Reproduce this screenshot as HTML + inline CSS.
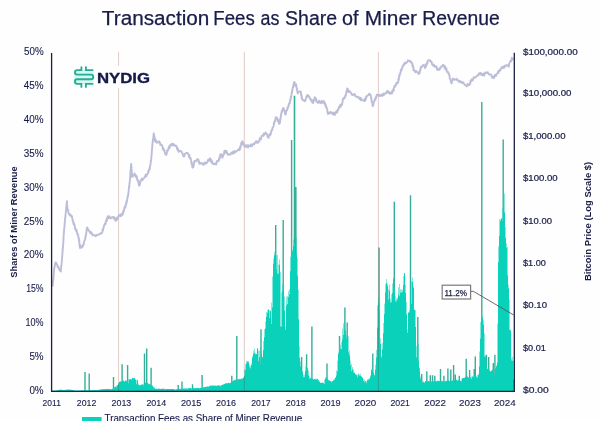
<!DOCTYPE html>
<html><head><meta charset="utf-8"><style>
html,body{margin:0;padding:0;background:#fff;}
body{width:600px;height:421px;overflow:hidden;}
svg{display:block;filter:blur(0.35px);}
text{font-family:"Liberation Sans", sans-serif;}
</style></head><body>
<svg width="600" height="421" viewBox="0 0 600 421">
<rect width="600" height="421" fill="#fefefe"/>
<g font-size="19.5" fill="#181c48" stroke="#181c48" stroke-width="0.25"><text x="101.88" y="24.7" textLength="107.46" lengthAdjust="spacingAndGlyphs">Transaction</text><text x="213.37" y="24.7" textLength="41.34" lengthAdjust="spacingAndGlyphs">Fees</text><text x="260.57" y="24.7" textLength="18.86" lengthAdjust="spacingAndGlyphs">as</text><text x="285.1" y="24.7" textLength="51.93" lengthAdjust="spacingAndGlyphs">Share</text><text x="342.09" y="24.7" textLength="16.47" lengthAdjust="spacingAndGlyphs">of</text><text x="364.79" y="24.7" textLength="52.19" lengthAdjust="spacingAndGlyphs">Miner</text><text x="422.31" y="24.7" textLength="77.34" lengthAdjust="spacingAndGlyphs">Revenue</text></g>

<path d="M84.30 372.0H85.70V391H84.30ZM88.50 373.5H89.90V391H88.50ZM112.80 377.0H114.20V391H112.80ZM121.40 364.2H122.80V391H121.40ZM126.90 365.0H128.30V391H126.90ZM143.80 353.5H145.20V391H143.80ZM146.00 348.5H147.40V391H146.00ZM150.40 367.8H151.80V391H150.40ZM177.50 385.0H178.90V391H177.50ZM181.30 381.4H182.70V391H181.30ZM191.80 384.2H193.20V391H191.80ZM201.40 375.0H202.80V391H201.40ZM231.10 375.7H232.50V391H231.10ZM236.10 336.0H237.50V391H236.10ZM260.30 329.3H261.70V391H260.30ZM275.00 225.0H276.40V391H275.00ZM282.50 220.0H283.90V391H282.50ZM290.90 140.0H292.30V391H290.90ZM293.70 95.7H295.30V391H293.70ZM295.20 187.0H296.60V391H295.20ZM300.90 357.0H302.30V391H300.90ZM305.90 354.2H307.30V391H305.90ZM338.80 336.0H340.20V391H338.80ZM344.20 307.5H345.60V391H344.20ZM346.50 322.5H347.90V391H346.50ZM311.20 326.5H312.60V391H311.20ZM326.30 363.6H327.70V391H326.30ZM372.10 353.6H373.50V391H372.10ZM378.40 247.4H379.80V391H378.40ZM393.60 201.7H395.00V391H393.60ZM409.80 195.2H411.20V391H409.80ZM417.10 316.9H418.50V391H417.10ZM418.20 367.8H419.60V391H418.20ZM421.00 374.0H422.40V391H421.00ZM426.10 371.2H427.50V391H426.10ZM429.60 375.2H431.00V391H429.60ZM431.80 375.2H433.20V391H431.80ZM434.10 375.8H435.50V391H434.10ZM439.80 369.0H441.20V391H439.80ZM443.20 375.8H444.60V391H443.20ZM447.20 368.4H448.60V391H447.20ZM450.10 369.5H451.50V391H450.10ZM452.90 365.0H454.30V391H452.90ZM454.60 374.6H456.00V391H454.60ZM458.60 375.8H460.00V391H458.60ZM465.50 358.7H466.90V391H465.50ZM468.90 370.0H470.30V391H468.90ZM473.50 369.0H474.90V391H473.50ZM474.60 356.4H476.00V391H474.60ZM485.70 354.7H487.10V391H485.70ZM488.00 357.0H489.40V391H488.00ZM492.60 363.0H494.00V391H492.60ZM494.20 354.7H495.60V391H494.20ZM481.10 102.0H482.50V391H481.10ZM502.50 139.5H503.90V391H502.50Z" fill="#34b09a"/>
<path d="M51.50 391.0 L51.50 390.8 L52.00 390.8 L52.00 390.6 L52.50 390.6 L52.50 390.6 L53.00 390.6 L53.00 390.5 L53.50 390.5 L53.50 390.5 L54.00 390.5 L54.00 390.5 L54.50 390.5 L54.50 390.4 L55.00 390.4 L55.00 390.6 L55.50 390.6 L55.50 390.4 L56.00 390.4 L56.00 390.3 L56.50 390.3 L56.50 390.4 L57.00 390.4 L57.00 390.2 L57.50 390.2 L57.50 390.1 L58.00 390.1 L58.00 390.0 L58.50 390.0 L58.50 390.0 L59.00 390.0 L59.00 389.8 L59.50 389.8 L59.50 389.7 L60.00 389.7 L60.00 389.6 L60.50 389.6 L60.50 389.8 L61.00 389.8 L61.00 389.8 L61.50 389.8 L61.50 389.8 L62.00 389.8 L62.00 389.9 L62.50 389.9 L62.50 389.9 L63.00 389.9 L63.00 390.0 L63.50 390.0 L63.50 390.0 L64.00 390.0 L64.00 390.0 L64.50 390.0 L64.50 390.0 L65.00 390.0 L65.00 389.8 L65.50 389.8 L65.50 389.7 L66.00 389.7 L66.00 389.7 L66.50 389.7 L66.50 389.7 L67.00 389.7 L67.00 389.6 L67.50 389.6 L67.50 389.5 L68.00 389.5 L68.00 389.4 L68.50 389.4 L68.50 389.6 L69.00 389.6 L69.00 389.6 L69.50 389.6 L69.50 389.7 L70.00 389.7 L70.00 389.7 L70.50 389.7 L70.50 389.7 L71.00 389.7 L71.00 389.8 L71.50 389.8 L71.50 389.8 L72.00 389.8 L72.00 390.0 L72.50 390.0 L72.50 390.0 L73.00 390.0 L73.00 390.1 L73.50 390.1 L73.50 390.2 L74.00 390.2 L74.00 390.3 L74.50 390.3 L74.50 390.4 L75.00 390.4 L75.00 390.4 L75.50 390.4 L75.50 390.4 L76.00 390.4 L76.00 390.4 L76.50 390.4 L76.50 390.4 L77.00 390.4 L77.00 390.4 L77.50 390.4 L77.50 390.4 L78.00 390.4 L78.00 390.4 L78.50 390.4 L78.50 390.3 L79.00 390.3 L79.00 390.4 L79.50 390.4 L79.50 390.4 L80.00 390.4 L80.00 390.4 L80.50 390.4 L80.50 390.6 L81.00 390.6 L81.00 390.3 L81.50 390.3 L81.50 390.3 L82.00 390.3 L82.00 390.3 L82.50 390.3 L82.50 390.3 L83.00 390.3 L83.00 390.4 L83.50 390.4 L83.50 390.3 L84.00 390.3 L84.00 390.3 L84.50 390.3 L84.50 390.4 L85.00 390.4 L85.00 390.2 L85.50 390.2 L85.50 390.2 L86.00 390.2 L86.00 390.2 L86.50 390.2 L86.50 390.2 L87.00 390.2 L87.00 390.2 L87.50 390.2 L87.50 390.2 L88.00 390.2 L88.00 390.2 L88.50 390.2 L88.50 390.2 L89.00 390.2 L89.00 390.2 L89.50 390.2 L89.50 390.2 L90.00 390.2 L90.00 390.1 L90.50 390.1 L90.50 390.1 L91.00 390.1 L91.00 390.2 L91.50 390.2 L91.50 390.2 L92.00 390.2 L92.00 390.1 L92.50 390.1 L92.50 390.1 L93.00 390.1 L93.00 390.2 L93.50 390.2 L93.50 390.1 L94.00 390.1 L94.00 390.2 L94.50 390.2 L94.50 390.1 L95.00 390.1 L95.00 390.2 L95.50 390.2 L95.50 390.1 L96.00 390.1 L96.00 390.1 L96.50 390.1 L96.50 390.2 L97.00 390.2 L97.00 390.2 L97.50 390.2 L97.50 390.1 L98.00 390.1 L98.00 390.0 L98.50 390.0 L98.50 389.7 L99.00 389.7 L99.00 390.0 L99.50 390.0 L99.50 389.4 L100.00 389.4 L100.00 389.2 L100.50 389.2 L100.50 389.4 L101.00 389.4 L101.00 389.6 L101.50 389.6 L101.50 389.2 L102.00 389.2 L102.00 389.2 L102.50 389.2 L102.50 389.2 L103.00 389.2 L103.00 389.2 L103.50 389.2 L103.50 389.1 L104.00 389.1 L104.00 389.1 L104.50 389.1 L104.50 389.3 L105.00 389.3 L105.00 389.2 L105.50 389.2 L105.50 389.0 L106.00 389.0 L106.00 389.1 L106.50 389.1 L106.50 389.1 L107.00 389.1 L107.00 389.1 L107.50 389.1 L107.50 389.0 L108.00 389.0 L108.00 389.1 L108.50 389.1 L108.50 389.1 L109.00 389.1 L109.00 389.0 L109.50 389.0 L109.50 389.1 L110.00 389.1 L110.00 389.2 L110.50 389.2 L110.50 389.5 L111.00 389.5 L111.00 388.9 L111.50 388.9 L111.50 389.2 L112.00 389.2 L112.00 388.9 L112.50 388.9 L112.50 388.6 L113.00 388.6 L113.00 388.0 L113.50 388.0 L113.50 387.9 L114.00 387.9 L114.00 387.3 L114.50 387.3 L114.50 387.2 L115.00 387.2 L115.00 387.0 L115.50 387.0 L115.50 386.3 L116.00 386.3 L116.00 387.2 L116.50 387.2 L116.50 385.5 L117.00 385.5 L117.00 385.3 L117.50 385.3 L117.50 384.9 L118.00 384.9 L118.00 384.2 L118.50 384.2 L118.50 382.8 L119.00 382.8 L119.00 381.7 L119.50 381.7 L119.50 381.9 L120.00 381.9 L120.00 381.2 L120.50 381.2 L120.50 381.7 L121.00 381.7 L121.00 381.6 L121.50 381.6 L121.50 381.3 L122.00 381.3 L122.00 381.1 L122.50 381.1 L122.50 380.4 L123.00 380.4 L123.00 380.4 L123.50 380.4 L123.50 380.8 L124.00 380.8 L124.00 381.0 L124.50 381.0 L124.50 382.1 L125.00 382.1 L125.00 380.3 L125.50 380.3 L125.50 380.7 L126.00 380.7 L126.00 381.4 L126.50 381.4 L126.50 380.4 L127.00 380.4 L127.00 379.9 L127.50 379.9 L127.50 379.5 L128.00 379.5 L128.00 383.3 L128.50 383.3 L128.50 379.3 L129.00 379.3 L129.00 379.4 L129.50 379.4 L129.50 379.2 L130.00 379.2 L130.00 379.3 L130.50 379.3 L130.50 379.0 L131.00 379.0 L131.00 380.1 L131.50 380.1 L131.50 378.4 L132.00 378.4 L132.00 378.0 L132.50 378.0 L132.50 377.7 L133.00 377.7 L133.00 378.7 L133.50 378.7 L133.50 378.0 L134.00 378.0 L134.00 377.4 L134.50 377.4 L134.50 378.2 L135.00 378.2 L135.00 378.7 L135.50 378.7 L135.50 380.1 L136.00 380.1 L136.00 379.9 L136.50 379.9 L136.50 384.2 L137.00 384.2 L137.00 379.4 L137.50 379.4 L137.50 380.5 L138.00 380.5 L138.00 383.5 L138.50 383.5 L138.50 385.0 L139.00 385.0 L139.00 385.0 L139.50 385.0 L139.50 385.7 L140.00 385.7 L140.00 384.9 L140.50 384.9 L140.50 384.9 L141.00 384.9 L141.00 384.8 L141.50 384.8 L141.50 384.8 L142.00 384.8 L142.00 384.3 L142.50 384.3 L142.50 384.4 L143.00 384.4 L143.00 385.4 L143.50 385.4 L143.50 383.9 L144.00 383.9 L144.00 384.2 L144.50 384.2 L144.50 383.2 L145.00 383.2 L145.00 382.8 L145.50 382.8 L145.50 382.7 L146.00 382.7 L146.00 382.2 L146.50 382.2 L146.50 382.9 L147.00 382.9 L147.00 382.8 L147.50 382.8 L147.50 383.1 L148.00 383.1 L148.00 383.4 L148.50 383.4 L148.50 384.4 L149.00 384.4 L149.00 383.8 L149.50 383.8 L149.50 384.0 L150.00 384.0 L150.00 384.9 L150.50 384.9 L150.50 384.5 L151.00 384.5 L151.00 385.0 L151.50 385.0 L151.50 385.8 L152.00 385.8 L152.00 385.3 L152.50 385.3 L152.50 385.9 L153.00 385.9 L153.00 386.7 L153.50 386.7 L153.50 387.5 L154.00 387.5 L154.00 387.8 L154.50 387.8 L154.50 388.2 L155.00 388.2 L155.00 388.5 L155.50 388.5 L155.50 388.9 L156.00 388.9 L156.00 388.8 L156.50 388.8 L156.50 388.6 L157.00 388.6 L157.00 388.8 L157.50 388.8 L157.50 389.3 L158.00 389.3 L158.00 388.6 L158.50 388.6 L158.50 388.7 L159.00 388.7 L159.00 388.6 L159.50 388.6 L159.50 388.9 L160.00 388.9 L160.00 389.1 L160.50 389.1 L160.50 389.0 L161.00 389.0 L161.00 388.8 L161.50 388.8 L161.50 388.8 L162.00 388.8 L162.00 388.8 L162.50 388.8 L162.50 388.7 L163.00 388.7 L163.00 388.7 L163.50 388.7 L163.50 388.8 L164.00 388.8 L164.00 388.9 L164.50 388.9 L164.50 388.8 L165.00 388.8 L165.00 389.6 L165.50 389.6 L165.50 388.8 L166.00 388.8 L166.00 389.0 L166.50 389.0 L166.50 389.0 L167.00 389.0 L167.00 388.9 L167.50 388.9 L167.50 388.9 L168.00 388.9 L168.00 388.9 L168.50 388.9 L168.50 388.9 L169.00 388.9 L169.00 389.1 L169.50 389.1 L169.50 389.0 L170.00 389.0 L170.00 389.0 L170.50 389.0 L170.50 389.1 L171.00 389.1 L171.00 389.0 L171.50 389.0 L171.50 388.9 L172.00 388.9 L172.00 388.9 L172.50 388.9 L172.50 389.0 L173.00 389.0 L173.00 389.0 L173.50 389.0 L173.50 389.1 L174.00 389.1 L174.00 389.2 L174.50 389.2 L174.50 389.5 L175.00 389.5 L175.00 389.4 L175.50 389.4 L175.50 389.6 L176.00 389.6 L176.00 389.3 L176.50 389.3 L176.50 389.3 L177.00 389.3 L177.00 389.0 L177.50 389.0 L177.50 388.9 L178.00 388.9 L178.00 388.9 L178.50 388.9 L178.50 389.2 L179.00 389.2 L179.00 388.7 L179.50 388.7 L179.50 388.9 L180.00 388.9 L180.00 388.9 L180.50 388.9 L180.50 388.6 L181.00 388.6 L181.00 388.6 L181.50 388.6 L181.50 388.7 L182.00 388.7 L182.00 388.5 L182.50 388.5 L182.50 388.9 L183.00 388.9 L183.00 388.6 L183.50 388.6 L183.50 388.6 L184.00 388.6 L184.00 388.5 L184.50 388.5 L184.50 388.5 L185.00 388.5 L185.00 388.4 L185.50 388.4 L185.50 388.8 L186.00 388.8 L186.00 388.3 L186.50 388.3 L186.50 388.5 L187.00 388.5 L187.00 389.3 L187.50 389.3 L187.50 388.2 L188.00 388.2 L188.00 388.1 L188.50 388.1 L188.50 388.6 L189.00 388.6 L189.00 388.1 L189.50 388.1 L189.50 388.3 L190.00 388.3 L190.00 388.1 L190.50 388.1 L190.50 388.1 L191.00 388.1 L191.00 388.2 L191.50 388.2 L191.50 388.8 L192.00 388.8 L192.00 388.0 L192.50 388.0 L192.50 388.2 L193.00 388.2 L193.00 388.1 L193.50 388.1 L193.50 388.1 L194.00 388.1 L194.00 388.0 L194.50 388.0 L194.50 388.4 L195.00 388.4 L195.00 387.9 L195.50 387.9 L195.50 388.2 L196.00 388.2 L196.00 388.2 L196.50 388.2 L196.50 388.0 L197.00 388.0 L197.00 388.0 L197.50 388.0 L197.50 388.1 L198.00 388.1 L198.00 388.0 L198.50 388.0 L198.50 387.8 L199.00 387.8 L199.00 388.5 L199.50 388.5 L199.50 387.9 L200.00 387.9 L200.00 387.8 L200.50 387.8 L200.50 387.9 L201.00 387.9 L201.00 387.8 L201.50 387.8 L201.50 387.9 L202.00 387.9 L202.00 387.7 L202.50 387.7 L202.50 387.6 L203.00 387.6 L203.00 387.4 L203.50 387.4 L203.50 387.1 L204.00 387.1 L204.00 387.5 L204.50 387.5 L204.50 387.0 L205.00 387.0 L205.00 387.1 L205.50 387.1 L205.50 386.8 L206.00 386.8 L206.00 386.6 L206.50 386.6 L206.50 386.9 L207.00 386.9 L207.00 387.0 L207.50 387.0 L207.50 386.1 L208.00 386.1 L208.00 386.7 L208.50 386.7 L208.50 386.4 L209.00 386.4 L209.00 386.1 L209.50 386.1 L209.50 386.0 L210.00 386.0 L210.00 385.7 L210.50 385.7 L210.50 385.5 L211.00 385.5 L211.00 385.6 L211.50 385.6 L211.50 385.7 L212.00 385.7 L212.00 385.6 L212.50 385.6 L212.50 385.4 L213.00 385.4 L213.00 385.6 L213.50 385.6 L213.50 385.4 L214.00 385.4 L214.00 385.4 L214.50 385.4 L214.50 386.1 L215.00 386.1 L215.00 385.7 L215.50 385.7 L215.50 385.3 L216.00 385.3 L216.00 385.5 L216.50 385.5 L216.50 386.0 L217.00 386.0 L217.00 385.5 L217.50 385.5 L217.50 385.4 L218.00 385.4 L218.00 385.4 L218.50 385.4 L218.50 385.2 L219.00 385.2 L219.00 385.5 L219.50 385.5 L219.50 385.3 L220.00 385.3 L220.00 385.4 L220.50 385.4 L220.50 386.5 L221.00 386.5 L221.00 384.9 L221.50 384.9 L221.50 385.6 L222.00 385.6 L222.00 384.8 L222.50 384.8 L222.50 384.7 L223.00 384.7 L223.00 384.3 L223.50 384.3 L223.50 384.6 L224.00 384.6 L224.00 384.1 L224.50 384.1 L224.50 383.8 L225.00 383.8 L225.00 383.6 L225.50 383.6 L225.50 383.3 L226.00 383.3 L226.00 383.5 L226.50 383.5 L226.50 383.0 L227.00 383.0 L227.00 383.4 L227.50 383.4 L227.50 383.0 L228.00 383.0 L228.00 383.1 L228.50 383.1 L228.50 382.7 L229.00 382.7 L229.00 383.5 L229.50 383.5 L229.50 382.7 L230.00 382.7 L230.00 382.9 L230.50 382.9 L230.50 382.8 L231.00 382.8 L231.00 382.3 L231.50 382.3 L231.50 381.2 L232.00 381.2 L232.00 381.8 L232.50 381.8 L232.50 380.9 L233.00 380.9 L233.00 381.0 L233.50 381.0 L233.50 380.1 L234.00 380.1 L234.00 380.2 L234.50 380.2 L234.50 379.9 L235.00 379.9 L235.00 379.6 L235.50 379.6 L235.50 380.3 L236.00 380.3 L236.00 382.4 L236.50 382.4 L236.50 381.3 L237.00 381.3 L237.00 380.0 L237.50 380.0 L237.50 379.2 L238.00 379.2 L238.00 379.5 L238.50 379.5 L238.50 378.9 L239.00 378.9 L239.00 379.3 L239.50 379.3 L239.50 378.7 L240.00 378.7 L240.00 379.3 L240.50 379.3 L240.50 379.1 L241.00 379.1 L241.00 378.4 L241.50 378.4 L241.50 378.8 L242.00 378.8 L242.00 379.1 L242.50 379.1 L242.50 378.0 L243.00 378.0 L243.00 377.7 L243.50 377.7 L243.50 377.6 L244.00 377.6 L244.00 375.8 L244.50 375.8 L244.50 369.6 L245.00 369.6 L245.00 370.3 L245.50 370.3 L245.50 364.3 L246.00 364.3 L246.00 363.6 L246.50 363.6 L246.50 360.7 L247.00 360.7 L247.00 361.1 L247.50 361.1 L247.50 362.1 L248.00 362.1 L248.00 362.5 L248.50 362.5 L248.50 361.1 L249.00 361.1 L249.00 364.4 L249.50 364.4 L249.50 367.3 L250.00 367.3 L250.00 365.7 L250.50 365.7 L250.50 368.4 L251.00 368.4 L251.00 365.2 L251.50 365.2 L251.50 363.3 L252.00 363.3 L252.00 357.8 L252.50 357.8 L252.50 356.0 L253.00 356.0 L253.00 354.0 L253.50 354.0 L253.50 350.7 L254.00 350.7 L254.00 348.5 L254.50 348.5 L254.50 353.1 L255.00 353.1 L255.00 352.8 L255.50 352.8 L255.50 354.6 L256.00 354.6 L256.00 354.1 L256.50 354.1 L256.50 353.9 L257.00 353.9 L257.00 347.9 L257.50 347.9 L257.50 348.4 L258.00 348.4 L258.00 350.6 L258.50 350.6 L258.50 361.3 L259.00 361.3 L259.00 356.9 L259.50 356.9 L259.50 350.6 L260.00 350.6 L260.00 364.4 L260.50 364.4 L260.50 347.0 L261.00 347.0 L261.00 351.0 L261.50 351.0 L261.50 354.2 L262.00 354.2 L262.00 356.7 L262.50 356.7 L262.50 357.3 L263.00 357.3 L263.00 350.3 L263.50 350.3 L263.50 340.9 L264.00 340.9 L264.00 337.2 L264.50 337.2 L264.50 329.3 L265.00 329.3 L265.00 328.5 L265.50 328.5 L265.50 321.5 L266.00 321.5 L266.00 316.9 L266.50 316.9 L266.50 311.9 L267.00 311.9 L267.00 313.0 L267.50 313.0 L267.50 310.2 L268.00 310.2 L268.00 309.2 L268.50 309.2 L268.50 309.8 L269.00 309.8 L269.00 310.2 L269.50 310.2 L269.50 318.1 L270.00 318.1 L270.00 311.2 L270.50 311.2 L270.50 310.6 L271.00 310.6 L271.00 324.1 L271.50 324.1 L271.50 302.6 L272.00 302.6 L272.00 307.5 L272.50 307.5 L272.50 276.5 L273.00 276.5 L273.00 263.7 L273.50 263.7 L273.50 258.4 L274.00 258.4 L274.00 255.2 L274.50 255.2 L274.50 251.7 L275.00 251.7 L275.00 264.1 L275.50 264.1 L275.50 249.2 L276.00 249.2 L276.00 269.6 L276.50 269.6 L276.50 255.4 L277.00 255.4 L277.00 254.5 L277.50 254.5 L277.50 273.8 L278.00 273.8 L278.00 264.5 L278.50 264.5 L278.50 273.8 L279.00 273.8 L279.00 264.8 L279.50 264.8 L279.50 259.5 L280.00 259.5 L280.00 271.7 L280.50 271.7 L280.50 326.4 L281.00 326.4 L281.00 326.7 L281.50 326.7 L281.50 292.3 L282.00 292.3 L282.00 284.2 L282.50 284.2 L282.50 290.4 L283.00 290.4 L283.00 288.9 L283.50 288.9 L283.50 302.8 L284.00 302.8 L284.00 296.2 L284.50 296.2 L284.50 310.8 L285.00 310.8 L285.00 326.5 L285.50 326.5 L285.50 329.8 L286.00 329.8 L286.00 305.4 L286.50 305.4 L286.50 297.1 L287.00 297.1 L287.00 295.9 L287.50 295.9 L287.50 303.9 L288.00 303.9 L288.00 297.2 L288.50 297.2 L288.50 290.9 L289.00 290.9 L289.00 294.3 L289.50 294.3 L289.50 289.0 L290.00 289.0 L290.00 271.2 L290.50 271.2 L290.50 256.8 L291.00 256.8 L291.00 244.4 L291.50 244.4 L291.50 236.5 L292.00 236.5 L292.00 249.5 L292.50 249.5 L292.50 251.4 L293.00 251.4 L293.00 239.6 L293.50 239.6 L293.50 245.9 L294.00 245.9 L294.00 243.4 L294.50 243.4 L294.50 243.2 L295.00 243.2 L295.00 253.5 L295.50 253.5 L295.50 257.3 L296.00 257.3 L296.00 237.6 L296.50 237.6 L296.50 254.5 L297.00 254.5 L297.00 257.7 L297.50 257.7 L297.50 275.7 L298.00 275.7 L298.00 289.4 L298.50 289.4 L298.50 319.2 L299.00 319.2 L299.00 346.3 L299.50 346.3 L299.50 358.0 L300.00 358.0 L300.00 361.6 L300.50 361.6 L300.50 366.4 L301.00 366.4 L301.00 371.8 L301.50 371.8 L301.50 371.0 L302.00 371.0 L302.00 371.0 L302.50 371.0 L302.50 372.3 L303.00 372.3 L303.00 374.7 L303.50 374.7 L303.50 377.3 L304.00 377.3 L304.00 377.3 L304.50 377.3 L304.50 374.5 L305.00 374.5 L305.00 371.3 L305.50 371.3 L305.50 366.8 L306.00 366.8 L306.00 367.7 L306.50 367.7 L306.50 366.4 L307.00 366.4 L307.00 367.8 L307.50 367.8 L307.50 369.2 L308.00 369.2 L308.00 370.5 L308.50 370.5 L308.50 375.4 L309.00 375.4 L309.00 376.3 L309.50 376.3 L309.50 379.1 L310.00 379.1 L310.00 378.2 L310.50 378.2 L310.50 377.8 L311.00 377.8 L311.00 378.8 L311.50 378.8 L311.50 378.6 L312.00 378.6 L312.00 378.4 L312.50 378.4 L312.50 379.1 L313.00 379.1 L313.00 379.2 L313.50 379.2 L313.50 379.4 L314.00 379.4 L314.00 378.9 L314.50 378.9 L314.50 379.0 L315.00 379.0 L315.00 379.7 L315.50 379.7 L315.50 378.8 L316.00 378.8 L316.00 378.4 L316.50 378.4 L316.50 379.7 L317.00 379.7 L317.00 379.1 L317.50 379.1 L317.50 378.7 L318.00 378.7 L318.00 380.4 L318.50 380.4 L318.50 379.7 L319.00 379.7 L319.00 381.3 L319.50 381.3 L319.50 381.9 L320.00 381.9 L320.00 382.7 L320.50 382.7 L320.50 382.9 L321.00 382.9 L321.00 382.9 L321.50 382.9 L321.50 382.4 L322.00 382.4 L322.00 382.8 L322.50 382.8 L322.50 382.4 L323.00 382.4 L323.00 383.2 L323.50 383.2 L323.50 382.8 L324.00 382.8 L324.00 383.9 L324.50 383.9 L324.50 379.6 L325.00 379.6 L325.00 378.7 L325.50 378.7 L325.50 377.1 L326.00 377.1 L326.00 378.0 L326.50 378.0 L326.50 377.7 L327.00 377.7 L327.00 377.9 L327.50 377.9 L327.50 379.4 L328.00 379.4 L328.00 379.4 L328.50 379.4 L328.50 380.6 L329.00 380.6 L329.00 380.4 L329.50 380.4 L329.50 380.6 L330.00 380.6 L330.00 380.9 L330.50 380.9 L330.50 381.3 L331.00 381.3 L331.00 380.7 L331.50 380.7 L331.50 382.5 L332.00 382.5 L332.00 381.2 L332.50 381.2 L332.50 381.0 L333.00 381.0 L333.00 380.8 L333.50 380.8 L333.50 379.4 L334.00 379.4 L334.00 380.1 L334.50 380.1 L334.50 378.6 L335.00 378.6 L335.00 377.3 L335.50 377.3 L335.50 377.9 L336.00 377.9 L336.00 375.5 L336.50 375.5 L336.50 370.4 L337.00 370.4 L337.00 371.5 L337.50 371.5 L337.50 360.7 L338.00 360.7 L338.00 354.0 L338.50 354.0 L338.50 352.3 L339.00 352.3 L339.00 342.0 L339.50 342.0 L339.50 339.5 L340.00 339.5 L340.00 345.0 L340.50 345.0 L340.50 349.1 L341.00 349.1 L341.00 349.3 L341.50 349.3 L341.50 342.1 L342.00 342.1 L342.00 339.5 L342.50 339.5 L342.50 328.4 L343.00 328.4 L343.00 323.2 L343.50 323.2 L343.50 334.9 L344.00 334.9 L344.00 320.7 L344.50 320.7 L344.50 331.0 L345.00 331.0 L345.00 329.8 L345.50 329.8 L345.50 331.1 L346.00 331.1 L346.00 338.4 L346.50 338.4 L346.50 334.9 L347.00 334.9 L347.00 325.4 L347.50 325.4 L347.50 330.2 L348.00 330.2 L348.00 336.3 L348.50 336.3 L348.50 352.6 L349.00 352.6 L349.00 350.4 L349.50 350.4 L349.50 355.4 L350.00 355.4 L350.00 360.4 L350.50 360.4 L350.50 365.5 L351.00 365.5 L351.00 363.8 L351.50 363.8 L351.50 371.3 L352.00 371.3 L352.00 367.0 L352.50 367.0 L352.50 369.4 L353.00 369.4 L353.00 369.5 L353.50 369.5 L353.50 372.6 L354.00 372.6 L354.00 372.6 L354.50 372.6 L354.50 372.8 L355.00 372.8 L355.00 374.1 L355.50 374.1 L355.50 374.5 L356.00 374.5 L356.00 375.3 L356.50 375.3 L356.50 374.6 L357.00 374.6 L357.00 374.8 L357.50 374.8 L357.50 377.3 L358.00 377.3 L358.00 374.7 L358.50 374.7 L358.50 373.4 L359.00 373.4 L359.00 373.9 L359.50 373.9 L359.50 376.0 L360.00 376.0 L360.00 373.8 L360.50 373.8 L360.50 376.1 L361.00 376.1 L361.00 376.6 L361.50 376.6 L361.50 376.4 L362.00 376.4 L362.00 377.4 L362.50 377.4 L362.50 377.8 L363.00 377.8 L363.00 381.1 L363.50 381.1 L363.50 378.9 L364.00 378.9 L364.00 379.4 L364.50 379.4 L364.50 382.5 L365.00 382.5 L365.00 381.1 L365.50 381.1 L365.50 381.1 L366.00 381.1 L366.00 383.2 L366.50 383.2 L366.50 381.2 L367.00 381.2 L367.00 380.3 L367.50 380.3 L367.50 379.5 L368.00 379.5 L368.00 380.3 L368.50 380.3 L368.50 378.6 L369.00 378.6 L369.00 378.6 L369.50 378.6 L369.50 378.9 L370.00 378.9 L370.00 376.7 L370.50 376.7 L370.50 375.2 L371.00 375.2 L371.00 370.3 L371.50 370.3 L371.50 369.3 L372.00 369.3 L372.00 367.2 L372.50 367.2 L372.50 369.4 L373.00 369.4 L373.00 372.4 L373.50 372.4 L373.50 372.9 L374.00 372.9 L374.00 375.6 L374.50 375.6 L374.50 374.6 L375.00 374.6 L375.00 369.7 L375.50 369.7 L375.50 364.8 L376.00 364.8 L376.00 357.6 L376.50 357.6 L376.50 349.8 L377.00 349.8 L377.00 327.6 L377.50 327.6 L377.50 305.2 L378.00 305.2 L378.00 302.6 L378.50 302.6 L378.50 297.4 L379.00 297.4 L379.00 310.6 L379.50 310.6 L379.50 319.0 L380.00 319.0 L380.00 344.1 L380.50 344.1 L380.50 338.3 L381.00 338.3 L381.00 357.4 L381.50 357.4 L381.50 355.4 L382.00 355.4 L382.00 349.4 L382.50 349.4 L382.50 343.1 L383.00 343.1 L383.00 333.2 L383.50 333.2 L383.50 323.1 L384.00 323.1 L384.00 314.2 L384.50 314.2 L384.50 303.4 L385.00 303.4 L385.00 292.5 L385.50 292.5 L385.50 284.3 L386.00 284.3 L386.00 279.0 L386.50 279.0 L386.50 283.3 L387.00 283.3 L387.00 283.5 L387.50 283.5 L387.50 286.0 L388.00 286.0 L388.00 299.5 L388.50 299.5 L388.50 288.9 L389.00 288.9 L389.00 284.6 L389.50 284.6 L389.50 290.8 L390.00 290.8 L390.00 298.6 L390.50 298.6 L390.50 302.7 L391.00 302.7 L391.00 302.3 L391.50 302.3 L391.50 294.3 L392.00 294.3 L392.00 293.0 L392.50 293.0 L392.50 283.6 L393.00 283.6 L393.00 277.7 L393.50 277.7 L393.50 279.3 L394.00 279.3 L394.00 286.9 L394.50 286.9 L394.50 289.3 L395.00 289.3 L395.00 301.5 L395.50 301.5 L395.50 295.9 L396.00 295.9 L396.00 298.4 L396.50 298.4 L396.50 301.4 L397.00 301.4 L397.00 299.5 L397.50 299.5 L397.50 297.2 L398.00 297.2 L398.00 287.2 L398.50 287.2 L398.50 294.8 L399.00 294.8 L399.00 296.3 L399.50 296.3 L399.50 284.1 L400.00 284.1 L400.00 289.6 L400.50 289.6 L400.50 292.6 L401.00 292.6 L401.00 289.2 L401.50 289.2 L401.50 292.9 L402.00 292.9 L402.00 289.7 L402.50 289.7 L402.50 292.1 L403.00 292.1 L403.00 285.3 L403.50 285.3 L403.50 276.0 L404.00 276.0 L404.00 273.3 L404.50 273.3 L404.50 273.1 L405.00 273.1 L405.00 284.3 L405.50 284.3 L405.50 293.0 L406.00 293.0 L406.00 314.5 L406.50 314.5 L406.50 302.1 L407.00 302.1 L407.00 329.3 L407.50 329.3 L407.50 332.8 L408.00 332.8 L408.00 312.5 L408.50 312.5 L408.50 312.5 L409.00 312.5 L409.00 312.3 L409.50 312.3 L409.50 309.7 L410.00 309.7 L410.00 288.5 L410.50 288.5 L410.50 298.5 L411.00 298.5 L411.00 304.1 L411.50 304.1 L411.50 280.9 L412.00 280.9 L412.00 277.3 L412.50 277.3 L412.50 281.9 L413.00 281.9 L413.00 286.0 L413.50 286.0 L413.50 288.0 L414.00 288.0 L414.00 309.8 L414.50 309.8 L414.50 309.8 L415.00 309.8 L415.00 310.2 L415.50 310.2 L415.50 327.1 L416.00 327.1 L416.00 345.9 L416.50 345.9 L416.50 357.5 L417.00 357.5 L417.00 339.5 L417.50 339.5 L417.50 334.0 L418.00 334.0 L418.00 344.0 L418.50 344.0 L418.50 361.3 L419.00 361.3 L419.00 368.3 L419.50 368.3 L419.50 372.1 L420.00 372.1 L420.00 376.4 L420.50 376.4 L420.50 378.8 L421.00 378.8 L421.00 378.8 L421.50 378.8 L421.50 380.5 L422.00 380.5 L422.00 383.0 L422.50 383.0 L422.50 380.8 L423.00 380.8 L423.00 381.4 L423.50 381.4 L423.50 382.1 L424.00 382.1 L424.00 382.4 L424.50 382.4 L424.50 382.6 L425.00 382.6 L425.00 381.1 L425.50 381.1 L425.50 381.3 L426.00 381.3 L426.00 381.0 L426.50 381.0 L426.50 380.9 L427.00 380.9 L427.00 380.8 L427.50 380.8 L427.50 381.7 L428.00 381.7 L428.00 380.9 L428.50 380.9 L428.50 381.0 L429.00 381.0 L429.00 381.7 L429.50 381.7 L429.50 381.2 L430.00 381.2 L430.00 383.0 L430.50 383.0 L430.50 381.9 L431.00 381.9 L431.00 381.6 L431.50 381.6 L431.50 381.8 L432.00 381.8 L432.00 381.0 L432.50 381.0 L432.50 381.6 L433.00 381.6 L433.00 381.6 L433.50 381.6 L433.50 381.2 L434.00 381.2 L434.00 381.3 L434.50 381.3 L434.50 380.9 L435.00 380.9 L435.00 381.0 L435.50 381.0 L435.50 381.0 L436.00 381.0 L436.00 381.8 L436.50 381.8 L436.50 380.8 L437.00 380.8 L437.00 380.9 L437.50 380.9 L437.50 380.7 L438.00 380.7 L438.00 380.6 L438.50 380.6 L438.50 381.0 L439.00 381.0 L439.00 381.4 L439.50 381.4 L439.50 381.0 L440.00 381.0 L440.00 380.9 L440.50 380.9 L440.50 381.2 L441.00 381.2 L441.00 380.5 L441.50 380.5 L441.50 381.4 L442.00 381.4 L442.00 381.0 L442.50 381.0 L442.50 381.2 L443.00 381.2 L443.00 382.0 L443.50 382.0 L443.50 381.7 L444.00 381.7 L444.00 382.1 L444.50 382.1 L444.50 381.0 L445.00 381.0 L445.00 381.0 L445.50 381.0 L445.50 381.3 L446.00 381.3 L446.00 381.2 L446.50 381.2 L446.50 380.5 L447.00 380.5 L447.00 380.3 L447.50 380.3 L447.50 381.2 L448.00 381.2 L448.00 380.4 L448.50 380.4 L448.50 380.2 L449.00 380.2 L449.00 381.1 L449.50 381.1 L449.50 381.1 L450.00 381.1 L450.00 380.2 L450.50 380.2 L450.50 381.4 L451.00 381.4 L451.00 380.9 L451.50 380.9 L451.50 381.2 L452.00 381.2 L452.00 379.9 L452.50 379.9 L452.50 380.7 L453.00 380.7 L453.00 379.9 L453.50 379.9 L453.50 380.7 L454.00 380.7 L454.00 379.8 L454.50 379.8 L454.50 380.9 L455.00 380.9 L455.00 381.2 L455.50 381.2 L455.50 383.9 L456.00 383.9 L456.00 379.9 L456.50 379.9 L456.50 379.7 L457.00 379.7 L457.00 381.1 L457.50 381.1 L457.50 380.0 L458.00 380.0 L458.00 380.0 L458.50 380.0 L458.50 380.5 L459.00 380.5 L459.00 380.0 L459.50 380.0 L459.50 379.6 L460.00 379.6 L460.00 380.8 L460.50 380.8 L460.50 380.8 L461.00 380.8 L461.00 379.3 L461.50 379.3 L461.50 381.4 L462.00 381.4 L462.00 378.4 L462.50 378.4 L462.50 378.0 L463.00 378.0 L463.00 377.9 L463.50 377.9 L463.50 377.9 L464.00 377.9 L464.00 378.1 L464.50 378.1 L464.50 377.5 L465.00 377.5 L465.00 376.8 L465.50 376.8 L465.50 376.8 L466.00 376.8 L466.00 377.3 L466.50 377.3 L466.50 377.5 L467.00 377.5 L467.00 376.5 L467.50 376.5 L467.50 376.6 L468.00 376.6 L468.00 377.7 L468.50 377.7 L468.50 377.3 L469.00 377.3 L469.00 377.3 L469.50 377.3 L469.50 377.9 L470.00 377.9 L470.00 377.6 L470.50 377.6 L470.50 377.1 L471.00 377.1 L471.00 379.1 L471.50 379.1 L471.50 376.4 L472.00 376.4 L472.00 376.5 L472.50 376.5 L472.50 376.5 L473.00 376.5 L473.00 376.6 L473.50 376.6 L473.50 376.9 L474.00 376.9 L474.00 376.0 L474.50 376.0 L474.50 375.8 L475.00 375.8 L475.00 376.3 L475.50 376.3 L475.50 376.1 L476.00 376.1 L476.00 375.9 L476.50 375.9 L476.50 377.2 L477.00 377.2 L477.00 374.8 L477.50 374.8 L477.50 377.9 L478.00 377.9 L478.00 373.7 L478.50 373.7 L478.50 375.3 L479.00 375.3 L479.00 366.5 L479.50 366.5 L479.50 351.6 L480.00 351.6 L480.00 338.8 L480.50 338.8 L480.50 322.0 L481.00 322.0 L481.00 311.8 L481.50 311.8 L481.50 312.4 L482.00 312.4 L482.00 316.3 L482.50 316.3 L482.50 317.9 L483.00 317.9 L483.00 320.3 L483.50 320.3 L483.50 324.8 L484.00 324.8 L484.00 333.3 L484.50 333.3 L484.50 356.5 L485.00 356.5 L485.00 355.3 L485.50 355.3 L485.50 356.9 L486.00 356.9 L486.00 361.0 L486.50 361.0 L486.50 367.1 L487.00 367.1 L487.00 368.4 L487.50 368.4 L487.50 369.0 L488.00 369.0 L488.00 369.4 L488.50 369.4 L488.50 369.1 L489.00 369.1 L489.00 369.5 L489.50 369.5 L489.50 371.1 L490.00 371.1 L490.00 371.7 L490.50 371.7 L490.50 371.0 L491.00 371.0 L491.00 370.8 L491.50 370.8 L491.50 370.6 L492.00 370.6 L492.00 370.0 L492.50 370.0 L492.50 369.2 L493.00 369.2 L493.00 370.0 L493.50 370.0 L493.50 368.6 L494.00 368.6 L494.00 376.5 L494.50 376.5 L494.50 373.3 L495.00 373.3 L495.00 368.7 L495.50 368.7 L495.50 368.0 L496.00 368.0 L496.00 366.3 L496.50 366.3 L496.50 365.5 L497.00 365.5 L497.00 362.8 L497.50 362.8 L497.50 323.6 L498.00 323.6 L498.00 262.3 L498.50 262.3 L498.50 246.4 L499.00 246.4 L499.00 236.0 L499.50 236.0 L499.50 219.3 L500.00 219.3 L500.00 221.1 L500.50 221.1 L500.50 219.2 L501.00 219.2 L501.00 218.5 L501.50 218.5 L501.50 218.3 L502.00 218.3 L502.00 221.0 L502.50 221.0 L502.50 208.4 L503.00 208.4 L503.00 193.6 L503.50 193.6 L503.50 193.1 L504.00 193.1 L504.00 193.5 L504.50 193.5 L504.50 212.4 L505.00 212.4 L505.00 227.0 L505.50 227.0 L505.50 238.3 L506.00 238.3 L506.00 243.4 L506.50 243.4 L506.50 247.7 L507.00 247.7 L507.00 246.9 L507.50 246.9 L507.50 275.4 L508.00 275.4 L508.00 288.6 L508.50 288.6 L508.50 284.8 L509.00 284.8 L509.00 299.4 L509.50 299.4 L509.50 330.1 L510.00 330.1 L510.00 330.7 L510.50 330.7 L510.50 329.5 L511.00 329.5 L511.00 360.4 L511.50 360.4 L511.50 357.7 L512.00 357.7 L512.00 356.8 L512.50 356.8 L512.50 361.0 L513.00 361.0 L513.00 360.2 L513.50 360.2 L513.50 379.5 L514.00 379.5 L514.00 391.0Z" fill="#0ad1ba"/>
<g stroke="#7a1a08" stroke-opacity="0.27" stroke-width="0.85">
<line x1="118.6" y1="52" x2="118.6" y2="391"/>
<line x1="244.3" y1="52" x2="244.3" y2="391"/>
<line x1="378.4" y1="52" x2="378.4" y2="391"/>
</g>
<rect x="70" y="66" width="84" height="22" fill="#fefefe"/>
<rect x="74" y="70" width="19.5" height="14" rx="2" fill="#d3f7f1"/>
<g fill="none" stroke="#27ad94" stroke-width="1.9" stroke-linecap="round">
<path d="M81.4 67.3V70.1H77.2A2.25 2.25 0 0 0 77.2 74.6H90.9A2.35 2.35 0 0 1 90.9 79.3H77.2A2.3 2.3 0 0 0 77.2 83.9H81.4V86.9"/>
<path d="M85.9 67.3V70.1H92.6M85.9 86.9V83.9H92.6"/>
</g>
<text x="96.9" y="82.8" font-size="15.5" font-weight="bold" fill="#151a48" stroke="#151a48" stroke-width="0.35" textLength="53.1" lengthAdjust="spacingAndGlyphs">NYDIG</text>
<polyline points="52.5,286.6 52.6,285.5 52.6,284.4 52.7,285.3 52.8,282.9 52.9,283.7 52.9,282.6 53.0,281.1 53.1,281.8 53.2,279.8 53.2,280.4 53.3,280.0 53.3,278.1 53.4,277.5 53.4,277.9 53.5,278.5 53.5,275.8 53.6,275.5 53.6,276.1 53.7,276.4 53.7,274.7 53.8,273.5 53.8,274.7 53.9,271.3 53.9,273.1 54.0,270.7 54.0,269.7 54.1,269.0 54.1,269.0 54.2,269.9 54.2,268.3 54.4,266.8 54.5,267.4 54.7,266.9 54.8,265.6 55.0,265.5 55.2,263.4 55.3,262.8 55.5,262.7 55.6,263.5 55.8,262.4 56.1,262.7 56.4,263.0 56.6,264.4 56.9,264.5 57.2,264.6 57.5,265.8 57.8,267.2 58.1,267.5 58.4,266.6 58.6,268.2 58.9,268.5 59.2,269.0 59.6,270.6 60.0,270.6 60.4,269.7 60.8,270.8 60.9,271.6 60.9,268.4 61.0,268.7 61.1,269.1 61.1,266.6 61.2,267.0 61.3,265.0 61.3,266.3 61.4,266.0 61.5,264.8 61.5,265.1 61.6,263.3 61.7,262.1 61.7,262.6 61.8,261.7 61.8,261.1 61.9,260.1 61.9,260.6 62.0,260.3 62.0,258.3 62.1,258.2 62.1,255.8 62.2,257.1 62.2,256.3 62.3,256.7 62.3,255.6 62.4,253.4 62.4,253.1 62.5,253.3 62.5,250.7 62.6,251.4 62.6,249.9 62.7,249.2 62.7,248.4 62.8,249.9 62.8,247.3 62.9,247.1 62.9,246.9 63.0,246.6 63.0,247.1 63.1,244.1 63.1,244.6 63.1,244.3 63.2,244.7 63.2,243.9 63.3,243.4 63.3,241.1 63.3,240.9 63.4,240.1 63.4,241.1 63.5,240.7 63.5,237.6 63.5,237.1 63.6,236.7 63.6,236.1 63.6,236.2 63.7,235.9 63.7,234.3 63.8,232.9 63.8,233.6 63.8,232.8 63.9,232.8 63.9,232.0 64.0,232.8 64.0,231.4 64.1,230.2 64.1,229.9 64.2,229.5 64.3,227.0 64.3,229.0 64.4,228.0 64.4,227.7 64.5,226.8 64.6,225.0 64.6,224.4 64.7,222.9 64.7,223.9 64.8,221.6 64.9,221.0 64.9,220.8 65.0,220.1 65.0,220.0 65.1,218.5 65.2,217.8 65.2,217.6 65.3,216.9 65.3,217.0 65.4,215.4 65.5,217.3 65.5,216.0 65.6,214.0 65.6,213.7 65.7,213.8 65.8,212.7 65.8,212.1 65.9,210.8 66.0,212.3 66.0,212.1 66.1,209.9 66.1,209.4 66.2,207.5 66.3,207.0 66.3,207.1 66.4,206.2 66.5,207.3 66.5,204.6 66.6,203.6 66.6,205.8 66.7,203.9 66.8,202.1 66.8,202.7 66.9,201.9 67.0,201.1 67.0,203.3 67.1,205.3 67.1,205.6 67.2,205.7 67.2,205.1 67.3,206.0 67.3,206.1 67.4,208.5 67.4,208.5 67.5,209.0 67.7,210.4 68.0,209.7 68.2,210.0 68.4,212.3 68.6,213.5 68.8,213.7 69.1,214.1 69.3,213.8 69.7,215.3 70.1,215.5 70.4,214.5 70.8,215.9 71.2,215.9 71.6,216.8 71.8,216.0 72.0,216.5 72.2,217.9 72.4,218.4 72.6,220.3 72.8,221.6 73.0,220.7 73.2,222.7 73.4,222.0 73.6,224.1 73.8,224.6 73.9,223.4 74.1,223.6 74.3,224.2 74.5,224.7 74.7,225.3 74.8,227.2 75.0,228.6 75.2,228.0 75.5,229.6 75.7,229.1 76.0,230.2 76.2,231.2 76.5,229.6 76.7,231.9 77.0,232.0 77.2,233.8 77.4,234.0 77.5,234.6 77.7,234.3 77.9,234.0 78.1,236.5 78.3,235.7 78.4,237.7 78.6,238.8 78.8,238.0 78.9,238.3 79.0,239.0 79.0,241.2 79.1,241.2 79.2,240.1 79.2,240.6 79.3,241.3 79.4,244.2 79.5,244.5 79.5,243.2 79.6,245.9 79.7,246.9 79.8,246.6 79.8,246.3 79.9,247.5 80.0,248.0 80.3,246.2 80.5,245.2 80.8,246.0 81.6,247.7 82.4,246.6 82.6,246.4 82.9,245.5 83.1,246.1 83.3,244.0 83.6,244.7 83.8,244.0 84.1,241.5 84.3,241.1 84.5,240.6 84.8,239.8 85.0,240.0 85.1,239.7 85.2,238.1 85.3,238.0 85.4,236.5 85.5,238.2 85.6,236.0 85.7,235.7 85.8,235.5 85.9,235.8 86.0,233.8 86.2,234.7 86.3,232.8 86.4,232.3 86.5,231.7 86.6,229.6 86.7,230.2 86.8,228.8 86.9,227.7 87.0,229.5 87.1,228.0 87.4,227.5 87.8,228.9 88.1,230.2 88.5,230.2 88.8,230.0 89.2,231.1 89.5,231.6 89.9,232.2 90.4,233.3 90.8,231.7 91.2,233.5 91.7,233.0 92.1,233.5 92.6,235.4 93.0,235.0 93.7,235.0 94.4,235.2 95.1,235.8 95.7,236.2 96.4,234.8 97.1,235.3 97.8,235.0 98.3,234.7 98.8,234.4 99.3,234.6 99.9,233.6 100.4,233.5 100.9,233.0 101.4,232.8 101.6,233.6 101.9,232.3 102.1,232.3 102.4,231.9 102.6,229.3 102.8,229.7 103.1,230.3 103.3,229.4 103.6,226.7 103.8,226.1 104.0,226.5 104.3,224.9 104.5,224.8 104.8,223.8 105.0,224.5 105.2,224.4 105.4,224.2 105.6,223.9 105.8,221.1 106.0,222.2 106.2,221.4 106.5,219.3 106.7,220.9 106.9,220.6 107.1,217.7 107.3,219.3 107.5,217.1 107.7,216.8 107.9,216.2 108.4,218.1 108.9,218.0 109.4,216.3 109.9,217.5 110.4,218.2 110.9,218.5 111.5,217.7 112.1,217.0 112.7,217.1 113.3,217.3 113.6,218.5 114.0,216.9 114.3,219.0 114.6,219.2 114.9,218.4 115.3,219.9 115.6,220.9 115.9,220.7 116.2,219.8 116.5,217.8 116.8,220.0 117.1,218.8 117.4,217.4 118.0,218.4 118.6,215.4 119.2,216.2 119.8,215.3 120.4,214.3 120.9,216.3 121.5,214.6 122.1,215.0 122.3,213.3 122.5,213.6 122.8,214.5 123.0,213.6 123.2,211.3 123.5,210.4 123.7,212.1 123.9,210.5 124.1,210.3 124.3,207.8 124.6,207.1 124.8,208.4 125.0,207.1 125.2,205.4 125.5,207.4 125.7,205.5 125.9,205.3 126.0,205.2 126.2,202.5 126.3,204.2 126.5,201.2 126.6,203.0 126.8,201.2 126.9,200.3 127.0,200.3 127.2,200.8 127.3,198.3 127.5,197.3 127.6,197.9 127.8,196.4 127.9,195.4 128.1,196.0 128.2,194.4 128.2,193.4 128.3,193.3 128.4,193.0 128.4,192.3 128.5,193.1 128.6,191.0 128.7,191.1 128.7,189.5 128.8,189.4 128.9,187.8 128.9,187.8 129.0,186.5 129.1,188.1 129.1,186.9 129.2,185.2 129.3,185.4 129.4,186.2 129.4,183.1 129.5,184.6 129.6,182.8 129.6,182.4 129.7,181.8 129.8,182.2 129.8,180.3 129.9,180.0 129.9,179.9 130.0,180.2 130.0,177.6 130.1,178.5 130.1,177.5 130.2,176.7 130.2,175.4 130.3,174.6 130.3,173.1 130.4,172.7 130.4,171.9 130.5,173.3 130.5,171.2 130.6,170.4 130.6,169.5 130.7,171.2 130.7,170.6 130.8,169.4 130.8,167.6 130.9,166.9 130.9,166.4 131.0,166.3 131.0,164.8 131.1,165.1 131.1,163.9 131.2,164.0 131.2,166.0 131.3,166.7 131.3,166.0 131.4,165.7 131.4,168.5 131.5,167.1 131.5,167.9 131.5,167.5 131.6,169.2 131.6,170.1 131.7,170.8 131.7,170.5 131.8,172.1 131.8,171.2 131.8,172.6 131.9,172.7 131.9,174.2 132.0,173.8 132.0,174.3 132.1,175.8 132.1,177.0 132.4,175.7 132.8,176.2 133.1,175.5 133.5,175.7 133.8,174.9 134.2,174.6 134.5,173.4 134.8,175.1 135.1,174.2 135.3,174.5 135.6,177.0 135.9,175.1 136.2,177.3 136.5,177.6 136.8,176.4 137.0,179.3 137.3,180.0 137.6,179.4 137.8,180.4 137.9,181.3 138.1,182.1 138.2,180.7 138.4,182.4 138.6,183.0 138.7,184.5 138.9,185.0 139.0,185.7 139.2,185.3 139.4,185.0 139.7,185.3 139.9,184.1 140.1,183.5 140.4,181.6 140.6,180.4 140.9,180.1 141.1,180.6 141.5,179.7 142.0,178.5 142.4,180.3 142.9,179.0 143.3,178.7 143.8,178.3 144.2,178.0 144.7,177.0 145.2,176.5 145.7,174.5 146.1,176.5 146.6,175.8 147.1,174.6 147.4,174.0 147.7,173.5 148.0,173.3 148.2,170.9 148.5,172.4 148.8,170.3 149.1,169.2 149.4,169.9 149.5,168.6 149.6,169.4 149.7,167.2 149.8,168.2 149.9,168.4 150.0,166.3 150.1,165.4 150.2,165.1 150.4,165.1 150.5,164.8 150.6,163.7 150.7,163.2 150.8,160.9 150.9,160.5 151.0,160.3 151.1,160.4 151.2,160.5 151.2,158.6 151.3,158.8 151.3,156.5 151.4,156.0 151.4,156.0 151.5,156.6 151.5,156.1 151.6,155.4 151.6,153.6 151.7,153.7 151.7,152.9 151.8,152.3 151.8,150.6 151.9,152.4 151.9,149.7 152.0,151.4 152.0,150.6 152.1,147.3 152.1,148.0 152.2,148.4 152.2,148.3 152.3,146.1 152.3,145.0 152.4,144.2 152.4,145.8 152.5,143.8 152.6,142.3 152.7,142.8 152.7,140.8 152.8,141.3 152.9,142.0 153.0,138.9 153.1,140.3 153.1,138.8 153.2,139.3 153.3,138.1 153.4,136.0 153.5,137.4 153.5,135.5 153.6,133.5 153.7,134.3 153.8,133.4 154.0,135.5 154.1,135.9 154.3,136.1 154.4,136.2 154.6,137.4 154.7,137.9 154.8,140.1 155.0,138.1 155.1,141.0 155.3,141.8 155.4,141.4 156.1,140.3 156.8,142.7 157.5,142.0 158.2,142.6 158.9,141.4 159.2,141.3 159.6,142.1 159.9,142.7 160.2,145.0 160.5,144.3 160.9,144.2 161.2,144.9 161.5,145.0 161.8,144.9 162.2,145.6 162.5,147.3 162.8,148.9 163.0,147.7 163.3,150.2 163.6,148.7 163.8,149.3 164.1,150.6 164.4,150.2 164.7,151.3 164.9,153.6 165.2,153.9 165.5,154.2 165.7,154.2 166.0,154.4 166.2,155.1 166.5,154.5 166.7,152.8 167.0,152.7 167.2,150.1 167.4,151.6 167.7,150.1 167.9,150.4 168.2,149.5 168.4,148.5 168.8,147.3 169.2,146.1 169.6,148.2 170.0,145.3 170.4,145.8 170.8,144.9 171.2,144.2 171.6,145.0 172.0,143.8 172.5,145.6 173.0,143.7 173.5,145.3 174.1,144.5 174.6,145.6 175.1,145.5 175.6,146.1 176.0,145.6 176.4,146.2 176.8,146.8 177.2,149.5 177.5,148.8 177.9,148.5 178.3,151.1 178.7,151.9 179.1,150.9 179.7,151.2 180.3,150.7 180.8,151.2 181.4,151.4 182.0,153.0 182.3,153.2 182.5,153.1 182.8,154.2 183.0,154.9 183.3,156.3 183.7,156.0 184.1,156.5 184.5,155.6 184.8,154.2 185.2,153.7 185.6,153.5 186.0,153.0 186.5,153.0 187.1,153.3 187.6,152.9 188.2,153.9 188.7,155.0 189.0,157.0 189.3,155.0 189.6,156.7 189.8,157.7 190.1,158.9 190.4,157.6 190.7,159.0 190.8,158.9 191.0,159.5 191.1,160.6 191.3,161.3 191.4,163.5 191.6,163.8 191.7,164.5 191.8,162.5 192.0,163.2 192.1,165.8 192.3,167.0 192.4,166.4 192.6,167.3 192.7,167.7 192.9,165.6 193.1,166.2 193.2,167.2 193.4,166.2 193.6,165.7 193.8,165.5 194.0,162.7 194.2,161.7 194.3,161.2 194.5,161.7 194.7,161.0 195.2,161.1 195.7,161.5 196.3,160.5 196.8,159.8 197.3,159.0 197.6,160.3 197.9,159.9 198.2,160.7 198.5,159.7 198.8,162.5 199.1,161.3 199.4,163.9 199.7,163.6 200.0,163.7 200.7,163.2 201.3,162.8 202.0,163.3 202.6,164.6 203.3,164.3 203.9,164.7 204.4,162.7 205.0,162.4 205.6,163.5 206.1,163.5 206.7,163.0 207.1,162.1 207.4,161.1 207.8,161.7 208.2,159.4 208.5,159.8 208.9,159.7 209.3,160.7 209.6,159.3 210.0,158.3 210.3,160.0 210.5,159.3 210.8,159.1 211.1,159.7 211.3,162.4 211.6,162.2 211.9,161.5 212.2,161.2 212.4,163.2 212.7,163.7 213.3,164.4 214.0,163.8 214.7,163.4 215.3,164.3 215.7,164.3 216.2,164.6 216.6,162.0 217.0,160.9 217.4,161.3 217.8,161.1 218.3,161.3 218.7,160.3 218.9,158.8 219.1,160.0 219.3,159.2 219.5,157.9 219.7,156.4 219.9,158.1 220.1,155.5 220.3,156.5 220.5,154.1 220.7,154.3 221.1,154.0 221.5,156.2 221.9,155.3 222.3,157.8 222.7,157.0 222.9,156.4 223.1,154.9 223.3,154.4 223.5,154.4 223.7,154.5 223.9,154.7 224.1,151.7 224.3,151.9 224.5,150.7 224.7,151.0 225.2,152.8 225.6,150.7 226.1,150.8 226.6,151.2 227.1,152.6 227.5,154.5 228.0,153.7 228.7,154.7 229.3,154.2 230.0,154.8 230.7,154.5 231.3,152.6 232.0,153.0 232.6,151.9 233.1,153.9 233.7,153.2 234.3,150.9 234.9,152.6 235.4,151.5 236.0,151.7 236.7,151.0 237.3,150.6 238.0,149.9 238.6,149.1 239.3,150.3 239.5,149.1 239.7,148.7 239.8,149.9 240.0,146.9 240.2,148.8 240.4,146.0 240.6,145.9 240.7,146.7 240.9,146.1 241.1,144.4 241.3,142.6 241.5,143.3 241.6,142.5 241.8,143.5 242.0,141.7 242.3,141.3 242.7,142.4 243.0,144.5 243.3,142.5 243.7,144.2 244.0,145.0 244.5,146.4 245.0,146.8 245.5,145.1 246.0,147.0 246.7,145.3 247.3,145.2 248.0,147.5 248.6,145.2 249.3,145.7 249.9,146.2 250.4,146.5 251.0,144.6 251.6,144.2 252.2,146.1 252.7,144.9 253.3,144.3 253.9,143.2 254.4,144.2 255.0,142.6 255.6,142.1 256.2,141.0 256.7,142.8 257.3,141.7 258.0,142.7 258.6,141.3 259.0,141.2 259.3,141.6 259.7,138.3 260.0,138.4 260.4,138.6 260.7,139.5 261.1,139.0 261.4,136.7 261.8,135.8 262.1,136.0 262.6,135.3 263.0,135.1 263.4,135.9 263.9,133.2 264.4,134.7 264.8,134.0 265.2,133.8 265.7,132.4 266.0,133.8 266.3,133.9 266.6,133.7 266.9,134.2 267.2,134.9 267.5,136.8 267.8,135.3 268.1,136.2 268.4,137.7 268.7,137.9 268.9,135.8 269.2,134.8 269.5,134.1 269.7,135.1 270.0,133.9 270.3,135.3 270.6,134.5 270.8,134.2 271.1,131.5 271.4,130.4 271.6,129.9 271.9,130.6 272.1,130.0 272.3,130.0 272.4,128.7 272.6,127.4 272.8,127.4 273.0,127.4 273.2,127.0 273.3,126.6 273.5,126.3 273.7,125.2 273.9,122.9 274.1,124.5 274.2,122.3 274.4,122.5 274.6,121.7 274.8,120.8 275.1,121.3 275.3,119.1 275.5,118.7 275.7,118.1 275.9,117.3 276.2,118.9 276.4,117.2 276.7,118.0 277.0,117.8 277.3,118.6 277.6,121.0 277.9,120.1 278.1,119.8 278.4,122.1 278.7,122.2 279.0,123.8 279.3,121.7 279.6,123.5 279.7,122.8 279.8,123.3 279.9,122.7 280.0,122.4 280.1,119.1 280.2,119.3 280.3,118.2 280.4,117.8 280.5,119.6 280.6,117.8 280.7,118.3 280.8,116.0 280.9,116.9 281.0,115.0 281.1,113.9 281.2,114.8 281.3,114.7 281.4,112.8 281.7,111.1 281.9,112.0 282.2,111.5 282.4,109.7 282.7,109.6 283.0,108.3 283.2,108.0 283.5,108.3 283.7,108.2 283.9,109.9 284.0,110.6 284.2,109.9 284.4,110.0 284.6,111.6 284.8,113.2 284.9,112.4 285.1,113.4 285.3,114.6 285.5,113.1 285.8,114.3 286.0,112.9 286.2,110.9 286.4,110.4 286.6,110.7 286.9,110.6 287.1,110.2 287.3,108.0 287.6,107.6 287.8,108.6 288.0,107.4 288.2,106.6 288.4,105.6 288.6,105.1 288.7,106.5 288.9,104.0 289.1,104.2 289.3,103.0 289.5,102.6 289.7,103.3 289.9,103.2 290.0,100.7 290.2,99.6 290.4,100.7 290.6,99.4 290.7,97.9 290.8,96.7 290.9,98.8 291.1,96.7 291.2,97.3 291.3,95.5 291.4,96.3 291.5,94.4 291.6,92.9 291.8,91.8 291.9,92.8 292.0,92.5 292.1,92.7 292.2,89.6 292.3,90.6 292.5,89.2 292.6,89.0 292.7,87.3 292.8,87.8 293.0,86.6 293.1,86.7 293.3,87.3 293.4,84.3 293.6,84.8 293.7,85.2 293.9,85.1 294.0,82.2 294.2,82.5 294.6,82.0 294.9,85.0 295.3,85.7 295.7,84.8 296.0,84.1 296.4,86.0 296.5,87.9 296.6,86.9 296.8,89.0 296.9,88.8 297.0,90.0 297.1,88.6 297.2,91.1 297.3,90.0 297.4,91.1 297.6,93.0 297.7,93.6 297.8,93.2 298.3,91.9 298.9,91.6 299.4,91.8 300.0,91.8 300.5,91.4 300.6,91.7 300.8,91.5 300.9,92.5 301.0,94.5 301.2,95.7 301.3,93.7 301.4,95.9 301.5,97.1 301.7,95.6 301.8,98.6 301.9,97.0 302.1,99.1 302.2,99.4 302.7,99.9 303.3,100.5 303.8,99.9 304.4,100.6 304.9,101.2 305.1,100.9 305.4,99.8 305.6,100.0 305.9,98.8 306.1,98.2 306.4,96.4 306.6,97.6 306.9,96.7 307.1,95.3 307.4,96.4 307.6,95.0 307.9,96.4 308.3,96.0 308.6,95.7 309.0,97.1 309.3,96.6 309.6,97.2 310.0,98.6 310.3,99.4 310.7,98.7 311.0,100.3 311.4,101.0 311.8,100.1 312.2,102.4 312.5,101.2 312.9,103.0 313.1,103.1 313.3,102.7 313.5,101.3 313.7,99.4 313.9,100.2 314.2,99.2 314.4,100.4 314.6,97.3 314.8,98.9 315.0,97.3 315.3,99.4 315.6,99.1 315.9,100.0 316.1,98.7 316.4,101.6 316.7,100.7 317.0,101.3 317.7,102.8 318.3,102.8 319.0,100.7 319.6,102.7 320.3,102.0 321.0,103.3 321.6,100.7 322.3,101.6 323.0,102.8 323.6,101.0 324.3,102.0 324.5,103.8 324.7,102.5 325.0,104.7 325.2,103.3 325.4,105.0 325.6,106.8 325.9,105.2 326.1,106.0 326.3,107.3 326.5,107.9 326.7,108.0 326.8,107.7 327.0,108.8 327.2,109.3 327.4,112.3 327.6,112.1 327.8,113.4 327.9,111.8 328.1,114.2 328.3,114.0 328.8,112.4 329.4,113.3 329.9,113.2 330.5,112.0 331.0,112.0 331.6,113.5 332.1,112.8 332.6,113.2 333.2,114.5 333.8,112.5 334.3,114.0 334.8,115.0 335.2,113.5 335.6,112.3 336.1,113.1 336.6,111.0 337.0,111.3 337.3,112.2 337.7,110.4 338.0,109.2 338.4,109.8 338.7,108.3 339.0,106.9 339.4,108.0 339.7,106.7 340.2,104.8 340.7,106.7 341.2,104.5 341.7,104.7 341.9,104.5 342.1,104.9 342.2,103.1 342.4,102.8 342.6,101.1 342.8,99.6 343.0,99.0 343.2,98.8 343.3,99.6 343.5,98.4 343.7,98.0 344.2,97.5 344.7,98.2 345.2,95.4 345.7,96.0 345.8,94.6 346.0,95.2 346.1,92.7 346.2,92.1 346.4,92.5 346.5,91.2 346.6,91.3 346.8,90.3 346.9,90.8 347.0,90.2 347.2,88.4 347.3,88.7 347.6,89.6 347.9,89.7 348.1,89.3 348.4,92.2 348.7,90.7 349.0,92.0 349.7,91.4 350.3,91.7 351.0,93.3 351.5,94.0 352.1,95.0 352.6,95.0 353.2,94.1 353.7,94.7 354.2,94.4 354.7,94.0 355.3,96.3 355.8,96.5 356.3,96.7 357.0,96.4 357.6,97.4 358.3,97.0 359.0,97.3 359.4,99.1 359.9,98.9 360.4,97.9 360.8,100.3 361.2,98.2 361.7,100.0 362.4,100.4 363.0,100.4 363.6,100.2 364.3,101.3 364.6,99.4 364.9,101.0 365.2,98.1 365.5,99.1 365.8,99.7 366.1,96.7 366.4,96.3 366.7,96.9 367.0,96.0 367.5,95.5 368.0,95.4 368.5,95.4 369.0,94.0 369.4,93.6 369.8,94.5 370.2,95.0 370.6,94.8 371.0,96.7 371.1,98.5 371.2,98.8 371.3,99.2 371.4,97.7 371.5,100.8 371.6,101.2 371.7,100.9 371.9,102.4 372.0,102.1 372.1,102.1 372.2,102.3 372.3,103.3 372.4,103.4 372.5,104.9 372.6,106.0 372.8,106.2 373.0,105.4 373.2,105.3 373.4,104.3 373.5,102.4 373.7,102.6 373.9,101.7 374.1,102.2 374.3,100.7 374.6,100.2 374.9,98.9 375.2,99.4 375.4,99.8 375.7,97.0 376.0,98.4 376.3,96.7 376.8,94.8 377.4,95.2 377.9,94.7 378.5,95.8 379.0,94.7 379.7,96.2 380.4,95.7 381.0,94.6 381.7,95.3 382.2,96.1 382.8,94.1 383.4,93.5 383.9,95.2 384.4,94.0 385.0,93.3 385.4,93.4 385.9,92.9 386.4,93.4 386.8,91.5 387.2,92.2 387.7,90.7 388.1,91.8 388.4,92.7 388.8,91.9 389.2,93.3 389.6,93.3 389.9,93.0 390.3,94.0 390.8,92.7 391.2,93.5 391.6,91.4 392.1,93.4 392.6,90.7 393.0,91.3 393.2,89.3 393.5,88.9 393.7,90.8 393.9,88.4 394.1,87.2 394.4,86.3 394.6,85.7 394.8,87.1 395.1,86.3 395.3,85.3 395.7,85.4 396.1,85.1 396.5,82.6 396.8,83.7 397.2,82.5 397.6,83.4 398.0,82.0 398.1,82.3 398.3,81.9 398.4,78.8 398.6,80.6 398.7,80.1 398.9,79.6 399.0,76.5 399.1,76.1 399.3,75.2 399.4,74.4 399.6,76.2 399.7,75.5 399.9,74.3 400.0,73.3 400.2,73.7 400.5,72.5 400.8,70.9 401.0,69.8 401.2,69.2 401.5,70.6 401.8,68.4 402.0,68.7 402.3,67.6 402.5,67.3 402.8,65.5 403.1,65.6 403.4,65.0 403.6,65.7 403.9,64.1 404.2,63.4 404.4,64.7 404.7,62.7 405.4,62.5 406.0,63.4 406.6,62.5 407.3,62.0 408.0,60.3 408.6,61.1 409.3,60.8 410.0,60.7 410.4,62.0 410.8,61.3 411.2,62.9 411.6,62.9 412.0,63.3 412.2,63.1 412.3,65.6 412.5,63.9 412.7,66.7 412.8,65.4 413.0,65.5 413.2,66.7 413.3,69.0 413.5,70.3 413.7,68.0 413.8,70.1 414.0,70.7 414.7,71.0 415.4,72.2 416.0,70.7 416.7,72.0 417.4,72.3 418.0,72.2 418.6,74.0 419.3,73.3 419.5,72.0 419.7,73.4 419.8,70.9 420.0,70.0 420.2,70.9 420.4,69.7 420.6,67.9 420.8,68.9 420.9,66.6 421.1,68.2 421.3,66.7 421.8,66.8 422.3,66.6 422.8,65.6 423.3,64.7 423.7,64.8 424.1,65.4 424.5,65.9 424.9,68.0 425.3,67.3 425.5,65.5 425.8,67.3 426.0,64.1 426.3,64.0 426.5,63.6 426.8,64.9 427.0,63.1 427.3,62.1 427.5,63.1 427.8,60.5 428.0,60.7 428.7,60.3 429.3,60.3 430.0,60.0 430.3,61.3 430.6,61.8 430.9,62.0 431.2,61.6 431.5,62.1 431.8,62.1 432.1,64.7 432.4,64.7 432.7,64.7 433.2,65.8 433.8,64.4 434.4,65.5 434.9,66.9 435.4,66.6 436.0,66.7 436.3,66.1 436.7,67.7 437.0,69.5 437.3,68.1 437.7,68.5 438.0,70.0 438.5,69.0 439.1,69.8 439.6,69.8 440.2,67.4 440.7,68.0 441.1,66.5 441.6,66.3 442.0,66.1 442.4,66.3 442.9,64.7 443.3,65.3 443.7,65.3 444.1,65.3 444.5,68.2 444.8,67.9 445.2,66.5 445.6,69.6 446.0,68.7 446.3,68.1 446.6,69.5 446.9,71.9 447.2,71.9 447.5,72.3 447.8,72.0 448.1,71.9 448.4,73.8 448.7,74.0 448.9,73.4 449.0,74.3 449.2,75.4 449.4,74.9 449.6,76.6 449.7,78.4 449.9,78.6 450.1,78.6 450.3,79.6 450.4,79.7 450.6,79.3 450.8,81.3 451.0,81.3 451.1,82.8 451.3,82.7 451.6,83.4 451.9,81.3 452.2,81.2 452.4,81.2 452.7,79.6 453.0,78.5 453.3,78.7 454.0,79.4 454.7,79.8 455.3,79.5 456.0,79.3 456.7,78.7 457.1,80.2 457.4,80.2 457.8,80.5 458.2,80.4 458.6,80.5 458.9,81.9 459.3,82.0 460.0,80.7 460.6,81.7 461.3,82.7 462.0,81.8 462.4,82.9 462.9,83.1 463.3,82.4 463.8,83.3 464.2,83.9 464.6,84.8 465.1,84.6 465.5,85.3 466.2,85.7 466.9,86.4 467.6,84.0 468.3,85.4 469.0,84.8 469.3,85.0 469.7,83.3 470.0,83.0 470.3,83.9 470.6,80.5 471.0,81.4 471.3,80.7 471.8,79.2 472.3,80.6 472.8,80.6 473.3,78.8 473.8,77.1 474.3,77.8 474.9,77.6 475.5,77.0 476.0,77.1 476.6,76.0 477.1,75.6 477.6,75.5 478.1,75.5 478.5,74.1 479.0,73.3 479.5,73.1 480.1,74.7 480.7,72.8 481.2,74.5 481.8,73.9 482.4,75.3 483.0,74.8 483.6,73.4 484.2,75.7 484.8,73.5 485.3,72.3 485.9,72.7 486.5,73.1 487.1,73.0 487.7,72.0 488.2,73.5 488.8,73.7 489.4,74.7 490.0,74.3 490.4,74.3 490.9,74.5 491.3,74.8 491.8,76.8 492.2,77.8 492.6,77.0 493.1,76.5 493.5,77.8 493.9,78.2 494.4,76.5 494.8,75.4 495.2,74.6 495.7,76.1 496.1,75.7 496.6,74.6 497.0,73.7 497.4,73.1 497.8,72.9 498.1,71.3 498.5,73.0 498.9,70.7 499.2,71.0 499.6,71.1 500.0,69.6 500.5,70.2 500.9,68.7 501.4,67.8 501.9,68.2 502.3,66.6 502.8,67.3 503.4,68.0 504.0,66.3 504.6,67.5 505.1,65.4 505.7,65.4 506.3,65.5 506.9,65.1 507.5,65.9 508.1,65.5 508.7,66.7 508.8,64.6 509.0,66.2 509.1,64.3 509.2,63.6 509.4,63.2 509.5,63.1 509.7,62.4 509.8,62.0 510.1,61.9 510.5,61.5 510.8,60.1 511.2,61.3 511.5,60.6 511.9,57.7 512.2,58.5 512.8,59.2 513.3,58.0" fill="none" stroke="#bcbed8" stroke-width="1.85" stroke-linejoin="round"/>
<g stroke="#1c1f3e" stroke-width="1.3" fill="none">
<path d="M51.6 53V391.3H514.3V52.8"/>
</g>
<g font-size="10.2" fill="#181c48" stroke="#181c48" stroke-width="0.1"><text x="43.6" y="55.0" text-anchor="end" textLength="19.6" lengthAdjust="spacingAndGlyphs">50%</text><text x="43.6" y="88.9" text-anchor="end" textLength="19.8" lengthAdjust="spacingAndGlyphs">45%</text><text x="43.6" y="122.8" text-anchor="end" textLength="19.8" lengthAdjust="spacingAndGlyphs">40%</text><text x="43.6" y="156.7" text-anchor="end" textLength="19.8" lengthAdjust="spacingAndGlyphs">35%</text><text x="43.6" y="190.6" text-anchor="end" textLength="19.8" lengthAdjust="spacingAndGlyphs">30%</text><text x="43.6" y="224.5" text-anchor="end" textLength="19.8" lengthAdjust="spacingAndGlyphs">25%</text><text x="43.6" y="258.4" text-anchor="end" textLength="19.8" lengthAdjust="spacingAndGlyphs">20%</text><text x="43.6" y="292.3" text-anchor="end" textLength="17.4" lengthAdjust="spacingAndGlyphs">15%</text><text x="43.6" y="326.2" text-anchor="end" textLength="18.0" lengthAdjust="spacingAndGlyphs">10%</text><text x="43.6" y="360.1" text-anchor="end" textLength="14.2" lengthAdjust="spacingAndGlyphs">5%</text><text x="43.6" y="394.0" text-anchor="end" textLength="14.2" lengthAdjust="spacingAndGlyphs">0%</text></g>
<g font-size="9.1" fill="#181c48" stroke="#181c48" stroke-width="0.22"><text x="523" y="54.7" textLength="54.6" lengthAdjust="spacingAndGlyphs">$100,000.00</text><text x="523" y="96.1" textLength="48.5" lengthAdjust="spacingAndGlyphs">$10,000.00</text><text x="523" y="139.0" textLength="42.5" lengthAdjust="spacingAndGlyphs">$1,000.00</text><text x="523" y="181.3" textLength="34.6" lengthAdjust="spacingAndGlyphs">$100.00</text><text x="523" y="223.6" textLength="28.9" lengthAdjust="spacingAndGlyphs">$10.00</text><text x="523" y="265.7" textLength="22.8" lengthAdjust="spacingAndGlyphs">$1.00</text><text x="523" y="308.3" textLength="24.0" lengthAdjust="spacingAndGlyphs">$0.10</text><text x="523" y="351.2" textLength="22.8" lengthAdjust="spacingAndGlyphs">$0.01</text><text x="523" y="393.1" textLength="25.7" lengthAdjust="spacingAndGlyphs">$0.00</text></g>
<g font-size="9.8" fill="#181c48" stroke="#181c48" stroke-width="0.12"><text x="42.6" y="405.9" textLength="18.3" lengthAdjust="spacingAndGlyphs">2011</text><text x="76.8" y="405.9" textLength="19.5" lengthAdjust="spacingAndGlyphs">2012</text><text x="111.5" y="405.9" textLength="19.8" lengthAdjust="spacingAndGlyphs">2013</text><text x="146.4" y="405.9" textLength="19.8" lengthAdjust="spacingAndGlyphs">2014</text><text x="180.9" y="405.9" textLength="20.5" lengthAdjust="spacingAndGlyphs">2015</text><text x="215.9" y="405.9" textLength="20.1" lengthAdjust="spacingAndGlyphs">2016</text><text x="251.2" y="405.9" textLength="19.4" lengthAdjust="spacingAndGlyphs">2017</text><text x="285.8" y="405.9" textLength="19.9" lengthAdjust="spacingAndGlyphs">2018</text><text x="320.4" y="405.9" textLength="20.2" lengthAdjust="spacingAndGlyphs">2019</text><text x="354.5" y="405.9" textLength="21.8" lengthAdjust="spacingAndGlyphs">2020</text><text x="390.5" y="405.9" textLength="19.5" lengthAdjust="spacingAndGlyphs">2021</text><text x="424.2" y="405.9" textLength="21.8" lengthAdjust="spacingAndGlyphs">2022</text><text x="459.1" y="405.9" textLength="21.8" lengthAdjust="spacingAndGlyphs">2023</text><text x="493.9" y="405.9" textLength="21.8" lengthAdjust="spacingAndGlyphs">2024</text></g>
<text transform="translate(17.3 222) rotate(-90)" font-size="9.4" font-weight="bold" fill="#181c48" text-anchor="middle" textLength="111.5" lengthAdjust="spacingAndGlyphs">Shares of Miner Revenue</text>
<text transform="translate(591 221.4) rotate(-90)" font-size="9.4" font-weight="bold" fill="#181c48" text-anchor="middle" textLength="119.3" lengthAdjust="spacingAndGlyphs">Bitcoin Price (Log Scale $)</text>
<polyline points="470.9,291.4 473.5,291.4 514.5,315.5" fill="none" stroke="#5a5a5a" stroke-width="0.9"/>
<rect x="442.2" y="285.2" width="28.4" height="13.8" fill="#fff" stroke="#7a7a7a" stroke-width="1.2"/>
<text x="444.4" y="295.6" font-size="9.6" fill="#1a1d40" stroke="#1a1d40" stroke-width="0.25" textLength="22.6" lengthAdjust="spacingAndGlyphs">11.2%</text>
<rect x="82" y="417" width="19.6" height="6" fill="#0ad1ba"/>
<text x="104.5" y="421.6" font-size="10" fill="#181c48" stroke="#181c48" stroke-width="0.12" textLength="197.6" lengthAdjust="spacingAndGlyphs">Transaction Fees as Share of Miner Revenue</text>
</svg>
</body></html>
